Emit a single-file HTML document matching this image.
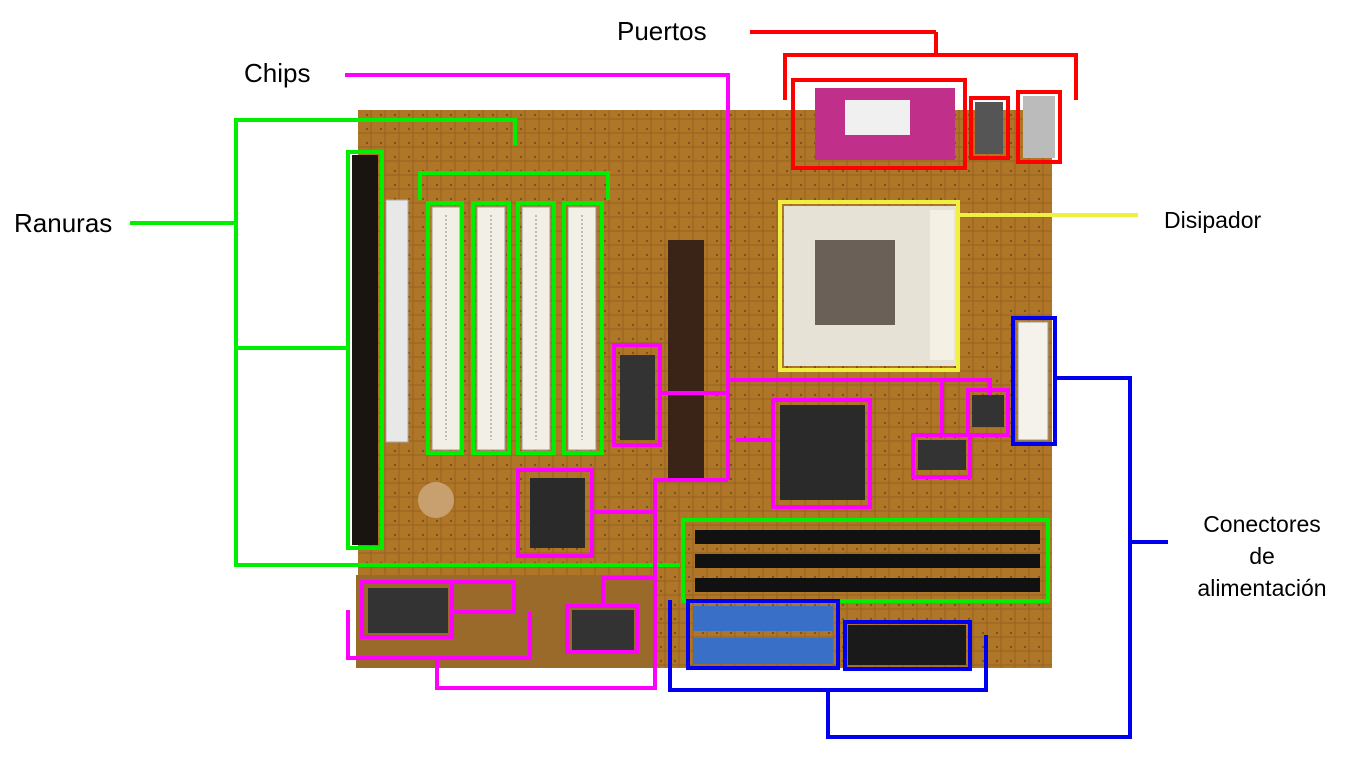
<!DOCTYPE html>
<html><head><meta charset="utf-8"><style>
html,body{margin:0;padding:0;background:#fff;width:1366px;height:768px;overflow:hidden}
svg{display:block}
text{font-family:"Liberation Sans",sans-serif;fill:#000}
</style></head><body>
<svg width="1366" height="768" viewBox="0 0 1366 768">
<defs>
<pattern id="pcb" width="14" height="14" patternUnits="userSpaceOnUse">
<rect width="14" height="14" fill="#b07628"/>
<path d="M0 7H14M7 0V14" stroke="#7a4e1a" stroke-width="1" opacity="0.5"/>
<circle cx="3" cy="3" r="1.2" fill="#5a3a14" opacity="0.6"/>
</pattern>
</defs>
<g>
<rect x="358" y="110" width="694" height="558" fill="url(#pcb)"/>
<rect x="356" y="575" width="300" height="93" fill="#9a6a2a"/>
<!-- ISA slot -->
<rect x="352" y="155" width="26" height="390" fill="#1a1410"/>
<rect x="386" y="200" width="22" height="242" fill="#e8e8e8" stroke="#aaa"/>
<!-- PCI slots -->
<g>
<rect x="432" y="207" width="28" height="243" fill="#f2efe6" stroke="#999"/>
<rect x="477" y="207" width="28" height="243" fill="#f2efe6" stroke="#999"/>
<rect x="522" y="207" width="28" height="243" fill="#f2efe6" stroke="#999"/>
<rect x="568" y="207" width="28" height="243" fill="#f2efe6" stroke="#999"/>
<line x1="446" y1="215" x2="446" y2="440" stroke="#888" stroke-dasharray="2 2"/>
<line x1="491" y1="215" x2="491" y2="440" stroke="#888" stroke-dasharray="2 2"/>
<line x1="536" y1="215" x2="536" y2="440" stroke="#888" stroke-dasharray="2 2"/>
<line x1="582" y1="215" x2="582" y2="440" stroke="#888" stroke-dasharray="2 2"/>
</g>
<!-- AGP -->
<rect x="668" y="240" width="36" height="238" fill="#3a2418"/>
<!-- CPU socket -->
<rect x="784" y="206" width="172" height="160" fill="#e6e2d6"/>
<rect x="815" y="240" width="80" height="85" fill="#6a6058"/>
<rect x="930" y="210" width="24" height="150" fill="#f4f0e4"/>
<!-- chips -->
<rect x="530" y="478" width="55" height="70" fill="#2a2a2a"/>
<rect x="780" y="405" width="85" height="95" fill="#2a2a2a"/>
<rect x="620" y="355" width="35" height="85" fill="#333"/>
<rect x="918" y="440" width="48" height="30" fill="#333"/>
<rect x="972" y="395" width="32" height="32" fill="#333"/>
<rect x="368" y="588" width="80" height="45" fill="#333"/>
<rect x="572" y="610" width="62" height="42" fill="#333"/>
<circle cx="436" cy="500" r="18" fill="#c8a070"/>
<!-- RAM -->
<g>
<rect x="695" y="530" width="345" height="14" fill="#111"/>
<rect x="695" y="554" width="345" height="14" fill="#111"/>
<rect x="695" y="578" width="345" height="14" fill="#111"/>
</g>
<!-- IDE -->
<rect x="693" y="606" width="140" height="25" fill="#3a6fc8"/>
<rect x="693" y="638" width="140" height="26" fill="#3a6fc8"/>
<rect x="848" y="625" width="118" height="40" fill="#1a1a1a"/>
<!-- power -->
<rect x="1018" y="322" width="30" height="118" fill="#f4f2ea" stroke="#999"/>
<!-- ports -->
<rect x="815" y="88" width="140" height="72" fill="#c0308a"/>
<rect x="845" y="100" width="65" height="35" fill="#f0f0f0"/>
<rect x="975" y="102" width="28" height="52" fill="#555"/>
<rect x="1023" y="96" width="32" height="62" fill="#bbb"/>
</g>
<g fill="none" stroke-width="4">
<g stroke="#00ee00">
<polyline points="515,145 515,120 236,120 236,565 680,565"/>
<line x1="236" y1="348" x2="350" y2="348"/>
<line x1="130" y1="223" x2="236" y2="223"/>
<rect x="348" y="152" width="34" height="396"/>
<polyline points="420,200 420,173 608,173 608,200"/>
<rect x="428" y="203" width="34" height="250"/>
<rect x="473" y="203" width="36" height="250"/>
<rect x="518" y="203" width="36" height="250"/>
<rect x="564" y="203" width="38" height="250"/>
<rect x="683" y="520" width="365" height="81"/>
</g>
<g stroke="#ff00ff">
<polyline points="345,75 728,75 728,380 990,380 990,395"/>
<line x1="728" y1="380" x2="728" y2="480"/>
<rect x="614" y="345" width="46" height="100"/>
<polyline points="660,393 728,393"/>
<rect x="518" y="470" width="74" height="86"/>
<polyline points="592,512 655,512 655,480 728,480"/>
<rect x="773" y="400" width="97" height="107"/>
<polyline points="736,440 773,440"/>
<rect x="913" y="435" width="57" height="42"/>
<polyline points="942,435 942,380"/>
<rect x="968" y="390" width="40" height="45"/>
<rect x="362" y="582" width="90" height="55"/>
<rect x="452" y="582" width="62" height="30"/>
<rect x="567" y="606" width="70" height="46"/>
<polyline points="348,610 348,658 530,658 530,612"/>
<polyline points="437,658 437,688 655,688 655,512"/>
<polyline points="603,606 603,578 655,578"/>
</g>
<g stroke="#ff0000">
<line x1="750" y1="32" x2="936" y2="32"/>
<polyline points="936,32 936,55"/>
<polyline points="785,100 785,55 1076,55 1076,100"/>
<rect x="793" y="80" width="172" height="88"/>
<rect x="971" y="98" width="37" height="60"/>
<rect x="1018" y="92" width="42" height="70"/>
</g>
<g stroke="#f0f040">
<rect x="780" y="202" width="178" height="168"/>
<line x1="958" y1="215" x2="1138" y2="215"/>
</g>
<g stroke="#0000ee">
<rect x="1013" y="318" width="42" height="126"/>
<polyline points="1055,378 1130,378 1130,737 828,737 828,690"/>
<line x1="1130" y1="542" x2="1168" y2="542"/>
<polyline points="670,600 670,690 986,690 986,635"/>
<rect x="688" y="601" width="150" height="67"/>
<rect x="845" y="622" width="125" height="47"/>
</g>
</g>
<text x="617" y="40" font-size="26">Puertos</text>
<text x="244" y="82" font-size="26">Chips</text>
<text x="14" y="232" font-size="26">Ranuras</text>
<text x="1164" y="228" font-size="23">Disipador</text>
<g font-size="23" text-anchor="middle">
<text x="1262" y="532">Conectores</text>
<text x="1262" y="564">de</text>
<text x="1262" y="596">alimentación</text>
</g>
</svg>
</body></html>
